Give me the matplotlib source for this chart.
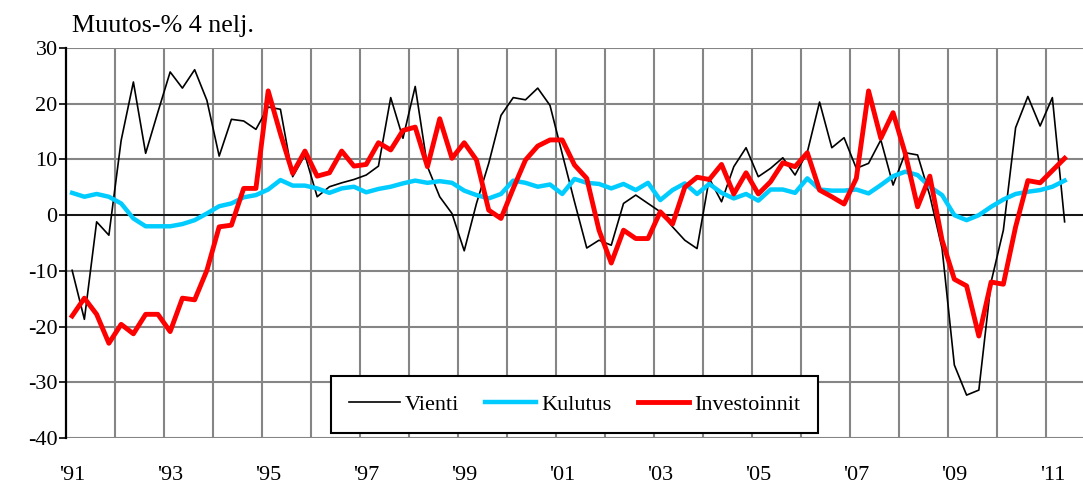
import matplotlib
matplotlib.use("Agg")
import matplotlib.pyplot as plt
import numpy as np

# quarterly, 1991Q1 .. 2011Q2, year-on-year change %
vienti = [-9.9, -18.7, -1.2, -3.6, 13.4, 23.9, 11.1, 18.5, 25.7, 22.8, 26.1, 20.6,
          10.6, 17.2, 16.9, 15.4, 19.4, 19.0, 6.9, 10.8, 3.3, 5.1, 5.8, 6.4,
          7.2, 8.8, 21.1, 13.8, 23.1, 8.7, 3.3, 0.3, -6.4, 2.1, 9.3, 17.9,
          21.1, 20.7, 22.8, 19.7, 11.0, 2.4, -5.9, -4.5, -5.4, 2.1, 3.6, 2.1,
          0.6, -2.1, -4.5, -6.0, 6.6, 2.4, 8.7, 12.1, 6.9, 8.4, 10.3, 7.2,
          11.3, 20.3, 12.1, 13.9, 8.4, 9.3, 13.5, 5.4, 11.2, 10.8, 3.5, -6.0,
          -26.9, -32.3, -31.4, -12.0, -2.7, 15.7, 21.3, 16.0, 21.1, -1.2]
kulutus = [4.0, 3.3, 3.8, 3.3, 2.1, -0.6, -2.0, -2.0, -2.0, -1.6, -0.9, 0.3,
           1.6, 2.1, 3.2, 3.6, 4.6, 6.3, 5.3, 5.3, 4.8, 4.0, 4.8, 5.1,
           4.1, 4.7, 5.1, 5.7, 6.2, 5.8, 6.1, 5.8, 4.4, 3.6, 3.0, 3.8,
           6.2, 5.8, 5.1, 5.5, 3.8, 6.5, 5.8, 5.6, 4.8, 5.6, 4.5, 5.8,
           2.7, 4.5, 5.7, 3.8, 5.6, 4.0, 3.0, 3.8, 2.6, 4.6, 4.6, 4.0,
           6.6, 4.6, 4.4, 4.4, 4.6, 3.9, 5.4, 7.0, 7.8, 7.2, 5.1, 3.6,
           0.0, -0.9, 0.0, 1.5, 2.8, 3.8, 4.2, 4.5, 5.1, 6.2]
investoinnit = [-18.1, -14.9, -17.8, -23.0, -19.6, -21.3, -17.8, -17.8, -20.9, -14.9, -15.2, -9.9,
                -2.1, -1.8, 4.8, 4.8, 22.3, 14.6, 7.5, 11.5, 7.0, 7.6, 11.5, 8.8,
                9.1, 13.0, 11.7, 15.2, 15.8, 8.7, 17.3, 10.2, 13.0, 9.9, 0.9, -0.6,
                4.8, 9.9, 12.4, 13.5, 13.5, 9.0, 6.6, -2.7, -8.6, -2.7, -4.2, -4.2,
                0.6, -1.6, 5.0, 6.8, 6.4, 9.1, 3.8, 7.6, 3.8, 6.0, 9.4, 8.7,
                11.2, 4.5, 3.3, 2.0, 6.6, 22.3, 13.8, 18.4, 11.0, 1.5, 7.0, -4.5,
                -11.5, -12.7, -21.7, -12.0, -12.4, -2.1, 6.2, 5.8, 8.0, 10.2]
year_labels = ["'91", "'93", "'95", "'97", "'99", "'01", "'03", "'05", "'07", "'09", "'11"]

plt.rcParams['font.family'] = ['Liberation Serif', 'DejaVu Serif']
plt.rcParams['axes.unicode_minus'] = False

fig = plt.figure(figsize=(10.83, 4.88), dpi=100)
ax = fig.add_axes([66 / 1083, 1 - 438 / 488, 1 - 66 / 1083, 390 / 488])

x = np.arange(len(vienti))
ax.plot(x, vienti, color='black', lw=1.2, label='Vienti', zorder=3)
ax.plot(x, kulutus, color='#00CCFF', lw=3.2, label='Kulutus', zorder=4)
ax.plot(x, investoinnit, color='#FF0000', lw=3.5, label='Investoinnit', zorder=5)

ax.set_xlim(-0.5, 82.5)
ax.set_ylim(-40, 30)
ax.set_yticks(np.arange(-40, 31, 10))
ax.set_xticks(np.arange(0, len(year_labels) * 8, 8))
ax.set_xticklabels(year_labels)
ax.set_xticks(np.arange(3.5, 82.5, 4), minor=True)

ax.grid(axis='y', which='major', color='#858585', lw=1.5, zorder=0)
ax.grid(axis='x', which='minor', color='#858585', lw=1.5, zorder=0)
ax.axhline(0, color='black', lw=1.2, zorder=2)

for s in ['top', 'right', 'bottom']:
    ax.spines[s].set_visible(False)
ax.spines['left'].set_linewidth(1.6)
ax.spines['left'].set_zorder(6)

ax.tick_params(axis='y', length=5, width=1.2, pad=1, labelsize=16)
ax.tick_params(axis='x', which='both', length=0, pad=20, labelsize=16)

leg = ax.legend(loc='center', bbox_to_anchor=(0.5, 0.086), ncol=3, fontsize=16,
                frameon=True, fancybox=False, edgecolor='black', framealpha=1,
                handlelength=2.3, handletextpad=0.25, columnspacing=1.15,
                borderpad=0.8)
leg.get_frame().set_linewidth(1.5)

fig.text(72 / 1083, 1 - 32 / 488, 'Muutos-% 4 nelj.', fontsize=18.7, ha='left', va='baseline')

fig.savefig('out.png', dpi=100)
